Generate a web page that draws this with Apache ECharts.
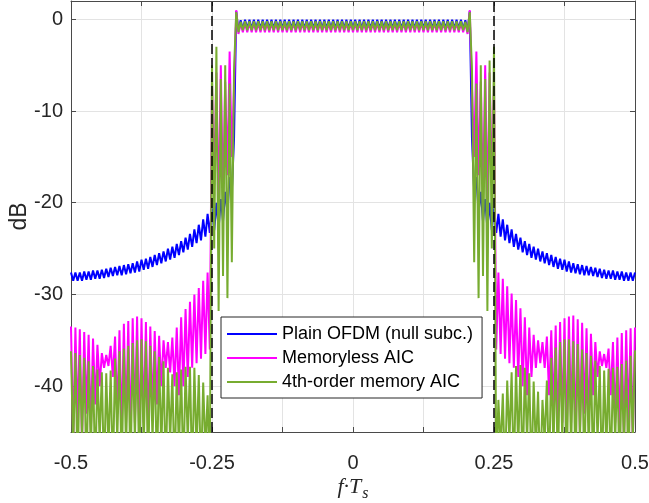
<!DOCTYPE html>
<html>
<head>
<meta charset="utf-8">
<script src="https://cdn.jsdelivr.net/npm/echarts@6/dist/echarts.min.js"></script>
<style>
  html, body { margin: 0; padding: 0; background: #ffffff; }
  #chart { width: 649px; height: 503px; }
</style>
</head>
<body>
<div id="chart"></div>
<script>
// Normalised frequency grid: samples every 1/256 from -0.5 to 0.5 (257 points).
const freqStart = -0.5;
const freqStep = 1 / 256;

const xLabelValues = [-0.5, -0.25, 0, 0.25, 0.5];
const yLabelValues = [-40, -30, -20, -10, 0];
const bandEdges = [-0.25, 0.25];

const seriesNames = ['Plain OFDM (null subc.)', 'Memoryless AIC', '4th-order memory AIC'];

// ---- Plain OFDM (null subcarriers), dB ----
const plainLeftStop = [
  -27.6,-28.5,-27.6,-28.5,-27.6,-28.5,-27.5,-28.4,-27.5,-28.4,
  -27.4,-28.3,-27.4,-28.3,-27.3,-28.2,-27.2,-28.1,-27.1,-28.0,
  -27.0,-27.9,-26.9,-27.9,-26.8,-27.8,-26.7,-27.7,-26.6,-27.6,
  -26.4,-27.5,-26.2,-27.3,-26.1,-27.2,-25.9,-27.0,-25.7,-26.8,
  -25.5,-26.6,-25.3,-26.4,-25.0,-26.2,-24.8,-26.0,-24.5,-25.7,
  -24.2,-25.4,-23.8,-25.1,-23.4,-24.8,-22.9,-24.4,-22.4,-24.1,
  -21.8,-23.7,-21.2,-23.3
];
const plainLeftEdge = [-20.6,-23.0,-20.0,-22.8,-19.6,-22.0,-18.8,-21.0,-17.2,-18.8,-13.0,0.9];
const plainInBand = [
  -1.3,-0.1,-1.1,-0.05,-1.05,-0.05,-1.05,-0.05,-1.05,-0.05,
  -1.05,-0.05,-1.05,-0.05,-1.05,-0.05,-1.05,-0.05,-1.05,-0.05,
  -1.05,-0.05,-1.05,-0.05,-1.05,-0.05,-1.05,-0.05,-1.05,-0.05,
  -1.05,-0.05,-1.05,-0.05,-1.05,-0.05,-1.05,-0.05,-1.05,-0.05,
  -1.05,-0.05,-1.05,-0.05,-1.05,-0.05,-1.05,-0.05,-1.05,-0.05,
  -1.05,-0.05,-1.05,-0.05,-1.05,-0.05,-1.05,-0.05,-1.05,-0.05,
  -1.05,-0.05,-1.05,-0.05,-1.05,-0.05,-1.05,-0.05,-1.05,-0.05,
  -1.05,-0.05,-1.05,-0.05,-1.05,-0.05,-1.05,-0.05,-1.05,-0.05,
  -1.05,-0.05,-1.05,-0.05,-1.05,-0.05,-1.05,-0.05,-1.05,-0.05,
  -1.05,-0.05,-1.05,-0.05,-1.05,-0.05,-1.05,-0.05,-1.05,-0.05,
  -1.05,-0.05,-1.1,-0.1,-1.3
];
const plainRightEdge = [0.9,-13.0,-18.8,-17.2,-21.0,-18.8,-22.0,-19.6,-22.8,-20.0,-23.0,-20.6];
const plainRightStop = [
  -23.3,-21.2,-23.7,-21.8,-24.1,-22.4,-24.4,-22.9,-24.8,-23.4,
  -25.1,-23.8,-25.4,-24.2,-25.7,-24.5,-26.0,-24.8,-26.2,-25.0,
  -26.4,-25.3,-26.6,-25.5,-26.8,-25.7,-27.0,-25.9,-27.2,-26.1,
  -27.3,-26.2,-27.5,-26.4,-27.6,-26.6,-27.7,-26.7,-27.8,-26.8,
  -27.9,-26.9,-27.9,-27.0,-28.0,-27.1,-28.1,-27.2,-28.2,-27.3,
  -28.3,-27.4,-28.3,-27.4,-28.4,-27.5,-28.4,-27.5,-28.5,-27.6,
  -28.5,-27.6,-28.5,-27.6
];

// ---- Memoryless AIC, dB ----
const aicLeftStop = [
  -33.5,-46,-33.6,-44,-33.8,-46,-34.1,-43,-34.4,-45,
  -34.8,-42,-35.5,-40,-36.4,-38,-36.6,-37.8,-35.6,-39,
  -34.6,-43,-33.9,-45,-33.2,-44,-32.9,-46,-32.6,-44,
  -32.4,-46,-32.6,-44,-33.0,-45,-33.5,-43,-34.0,-42,
  -34.5,-40,-35.0,-38,-35.2,-38.5,-34.7,-40,-33.6,-41,
  -32.5,-40,-31.6,-39,-30.8,-38,-30.0,-37.5,-29.3,-37,
  -28.5,-36.5,-27.6,-36
];
const aicLeftEdge = [-7.0,-18,-5.8,-21,-5.0,-20,-6.8,-17,-3.5,-15,-7.5,1.0];
const aicInBand = [
  -1.6,-0.4,-1.4,-0.35,-1.4,-0.35,-1.4,-0.35,-1.4,-0.35,
  -1.4,-0.35,-1.4,-0.35,-1.4,-0.35,-1.4,-0.35,-1.4,-0.35,
  -1.4,-0.35,-1.4,-0.35,-1.4,-0.35,-1.4,-0.35,-1.4,-0.35,
  -1.4,-0.35,-1.4,-0.35,-1.4,-0.35,-1.4,-0.35,-1.4,-0.35,
  -1.4,-0.35,-1.4,-0.35,-1.4,-0.35,-1.4,-0.35,-1.4,-0.35,
  -1.4,-0.35,-1.4,-0.35,-1.4,-0.35,-1.4,-0.35,-1.4,-0.35,
  -1.4,-0.35,-1.4,-0.35,-1.4,-0.35,-1.4,-0.35,-1.4,-0.35,
  -1.4,-0.35,-1.4,-0.35,-1.4,-0.35,-1.4,-0.35,-1.4,-0.35,
  -1.4,-0.35,-1.4,-0.35,-1.4,-0.35,-1.4,-0.35,-1.4,-0.35,
  -1.4,-0.35,-1.4,-0.35,-1.4,-0.35,-1.4,-0.35,-1.4,-0.35,
  -1.4,-0.35,-1.4,-0.4,-1.6
];
const aicRightEdge = [1.0,-7.5,-15,-3.5,-17,-6.8,-20,-5.0,-21,-5.8,-18,-7.0];
const aicRightStop = [
  -36,-27.6,-36.5,-28.3,-37,-29.1,-37.5,-29.9,-38,-30.6,
  -39,-31.5,-40,-32.5,-41,-33.6,-39,-34.4,-38,-35.0,
  -37.5,-35.2,-38,-34.6,-41,-33.9,-43,-33.4,-45,-33.0,
  -44,-32.6,-46,-32.4,-44,-32.3,-46,-32.7,-45,-33.1,
  -43,-33.7,-44,-34.3,-41,-35.2,-39,-36.2,-37.8,-36.5,
  -38,-35.9,-41,-35.2,-44,-34.7,-45,-34.2,-46,-33.9,
  -44,-33.7,-46,-33.6
];

// ---- 4th-order memory AIC, dB ----
const memLeftStop = [
  -36.2,-47,-36.4,-50,-36.6,-46,-36.9,-50,-37.3,-47,
  -37.8,-50,-38.2,-46,-38.5,-50,-38.6,-47,-38.3,-50,
  -37.0,-46,-36.2,-50,-35.9,-47,-35.6,-50,-35.3,-46,
  -35.0,-50,-34.9,-47,-35.1,-50,-35.6,-46,-36.2,-50,
  -36.8,-47,-37.3,-50,-38.0,-46,-38.7,-50,-38.5,-47,
  -38.2,-50,-37.9,-46,-37.9,-50,-38.0,-47,-38.8,-50,
  -39.6,-47,-41.0,-50
];
const memLeftEdge = [-5.0,-25.0,-3.0,-31.8,-6.5,-28.0,-5.0,-30.4,-7.0,-26.5,-5.5,0.8];
const memInBand = [
  -1.4,-0.25,-1.2,-0.2,-1.2,-0.2,-1.2,-0.2,-1.2,-0.2,
  -1.2,-0.2,-1.2,-0.2,-1.2,-0.2,-1.2,-0.2,-1.2,-0.2,
  -1.2,-0.2,-1.2,-0.2,-1.2,-0.2,-1.2,-0.2,-1.2,-0.2,
  -1.2,-0.2,-1.2,-0.2,-1.2,-0.2,-1.2,-0.2,-1.2,-0.2,
  -1.2,-0.2,-1.2,-0.2,-1.2,-0.2,-1.2,-0.2,-1.2,-0.2,
  -1.2,-0.2,-1.2,-0.2,-1.2,-0.2,-1.2,-0.2,-1.2,-0.2,
  -1.2,-0.2,-1.2,-0.2,-1.2,-0.2,-1.2,-0.2,-1.2,-0.2,
  -1.2,-0.2,-1.2,-0.2,-1.2,-0.2,-1.2,-0.2,-1.2,-0.2,
  -1.2,-0.2,-1.2,-0.2,-1.2,-0.2,-1.2,-0.2,-1.2,-0.2,
  -1.2,-0.2,-1.2,-0.2,-1.2,-0.2,-1.2,-0.2,-1.2,-0.2,
  -1.2,-0.2,-1.2,-0.25,-1.4
];
const memRightEdge = [0.8,-5.5,-26.5,-7.0,-30.4,-5.0,-28.0,-6.5,-31.8,-4.5,-25.0,-3.0];
const memRightStop = [
  -50,-41.5,-47,-40.8,-50,-39.4,-46,-38.5,-50,-37.8,
  -47,-37.7,-50,-38.0,-46,-38.6,-50,-39.5,-47,-40.6,
  -50,-41.5,-46,-39.4,-50,-36.9,-47,-35.8,-50,-35.2,
  -46,-34.9,-50,-34.9,-47,-35.1,-50,-35.4,-46,-36.0,
  -50,-36.4,-47,-36.7,-50,-37.2,-46,-37.8,-50,-38.3,
  -47,-38.1,-50,-38.0,-46,-37.9,-50,-37.6,-47,-37.2,
  -50,-36.7,-46,-36.1
];

const plainPsd = [].concat(plainLeftStop, plainLeftEdge, plainInBand, plainRightEdge, plainRightStop);
const aicPsd = [].concat(aicLeftStop, aicLeftEdge, aicInBand, aicRightEdge, aicRightStop);
const memPsd = [].concat(memLeftStop, memLeftEdge, memInBand, memRightEdge, memRightStop);

function withFreq(values) {
  return values.map((v, k) => [freqStart + k * freqStep, v]);
}

const axisColor = '#4a4a4a';
const textColor = '#262626';
const gridColor = '#e3e3e3';
const sans = '"Liberation Sans", Arial, Helvetica, sans-serif';
const serif = '"Liberation Serif", "Times New Roman", serif';

const chart = echarts.init(document.getElementById('chart'), null, { renderer: 'canvas' });

function lineSeries(name, color, values, extra) {
  return Object.assign({
    name: name,
    type: 'line',
    data: withFreq(values),
    showSymbol: false,
    symbol: 'none',
    clip: true,
    lineStyle: { color: color, width: 2 },
    itemStyle: { color: color },
    emphasis: { disabled: true },
    animation: false
  }, extra || {});
}

chart.setOption({
  animation: false,
  backgroundColor: '#ffffff',
  grid: { left: 71, right: 14, top: 1, bottom: 71, containLabel: false, outerBoundsMode: 'none' },
  legend: {
    data: seriesNames.map(n => ({ name: n, icon: 'rect' })),
    orient: 'vertical',
    left: 221,
    top: 317,
    backgroundColor: '#ffffff',
    borderColor: '#262626',
    borderWidth: 1,
    padding: [7, 9, 6, 6],
    itemGap: 4,
    itemWidth: 50,
    itemHeight: 2,
    textStyle: { fontFamily: sans, fontSize: 18, lineHeight: 20, color: '#000000' }
  },
  xAxis: [{
    type: 'value',
    min: -0.5,
    max: 0.5,
    interval: 0.125,
    name: '{i|f·T}{s|s}',
    nameLocation: 'middle',
    nameGap: 40,
    nameMoveOverlap: false,
    nameTextStyle: {
      rich: {
        i: { fontFamily: serif, fontStyle: 'italic', fontSize: 22, color: textColor },
        s: { fontFamily: serif, fontStyle: 'italic', fontSize: 16, color: textColor, padding: [14, 0, 0, 1] }
      }
    },
    axisLine: { show: true, onZero: false, lineStyle: { color: axisColor, width: 1 } },
    axisTick: { show: true, inside: true, length: 5, lineStyle: { color: axisColor } },
    axisLabel: {
      customValues: xLabelValues,
      formatter: v => String(v),
      margin: 21,
      fontFamily: sans, fontSize: 20, color: textColor
    },
    splitLine: { show: true, lineStyle: { color: gridColor, width: 1 } }
  }, {
    type: 'value',
    position: 'top',
    min: -0.5,
    max: 0.5,
    interval: 0.125,
    axisLine: { show: true, onZero: false, lineStyle: { color: axisColor, width: 1 } },
    axisTick: { show: true, inside: true, length: 5, lineStyle: { color: axisColor } },
    axisLabel: { show: false },
    splitLine: { show: false }
  }],
  yAxis: [{
    type: 'value',
    min: -45,
    max: 2,
    name: 'dB',
    nameLocation: 'middle',
    nameGap: 40,
    nameMoveOverlap: false,
    nameRotate: 90,
    nameTextStyle: { fontFamily: sans, fontSize: 23, color: textColor },
    axisLine: { show: true, onZero: false, lineStyle: { color: axisColor, width: 1 } },
    axisTick: { show: true, inside: true, length: 5, customValues: yLabelValues, lineStyle: { color: axisColor } },
    axisLabel: {
      customValues: yLabelValues,
      formatter: v => String(v),
      margin: 8,
      fontFamily: sans, fontSize: 20, color: textColor
    },
    splitLine: { show: true, lineStyle: { color: gridColor, width: 1 } }
  }, {
    type: 'value',
    position: 'right',
    min: -45,
    max: 2,
    axisLine: { show: true, onZero: false, lineStyle: { color: axisColor, width: 1 } },
    axisTick: { show: true, inside: true, length: 5, customValues: yLabelValues, lineStyle: { color: axisColor } },
    axisLabel: { show: false },
    splitLine: { show: false }
  }],
  series: [
    lineSeries(seriesNames[0], '#0000ff', plainPsd, { z: 2 }),
    lineSeries(seriesNames[1], '#ff00ff', aicPsd, { z: 3 }),
    lineSeries(seriesNames[2], '#77ac30', memPsd, {
      z: 4,
      markLine: {
        silent: true,
        symbol: ['none', 'none'],
        label: { show: false },
        lineStyle: { color: '#000000', type: [10, 4], width: 1.5 },
        data: bandEdges.map(f => ({ xAxis: f }))
      }
    })
  ]
});
</script>
</body>
</html>
